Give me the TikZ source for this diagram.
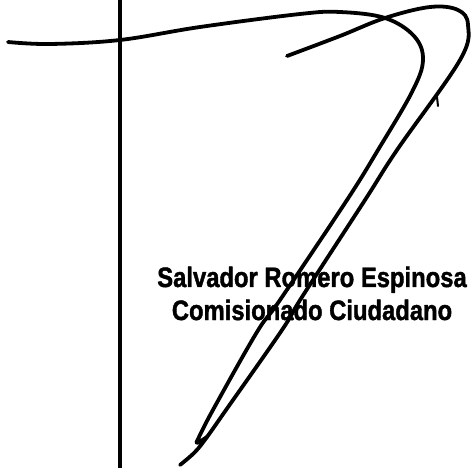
\documentclass[tikz,border=0pt]{standalone}
\usepackage{fontspec}
\setmainfont{Liberation Sans}[BoldFeatures={FakeBold=1.6}]
\usepackage{xcolor}

\begin{document}
\begin{tikzpicture}[x=1pt,y=-1pt,line cap=round,line join=round]
\tikzset{ink/.style={line width=3.8pt},label text/.style={anchor=base,xscale=0.85,font=\bfseries\fontsize{28}{28}\selectfont}}
\useasboundingbox (0,0) rectangle (472,468);
\draw [line width=4.4pt] (120,0) -- (120,468);
\draw [ink] plot[smooth,tension=0.6] coordinates {(8,42) (50,44) (120,40) (200,27) (300,14) (340,12) (385,18) (414,36) (423,60) (412,92) (378,150) (347,200) (280,300) (257,332) (214,408) (199,437) (197,443) (207,437)};
\draw [ink] plot[smooth,tension=0.6] coordinates {(287,56) (340,36) (385,18) (430,7) (458,10) (468,25) (460,60) (397,150) (365,200) (302,297) (282,330) (226,410) (207,437) (195,452) (180,465)};
\draw [line width=2pt] (437,97) -- (438,106);
\node (name) at (312,287) [label text] {Salvador Romero Espinosa};
\node (role) at (312,320) [label text] {Comisionado Ciudadano};
\end{tikzpicture}
\end{document}
